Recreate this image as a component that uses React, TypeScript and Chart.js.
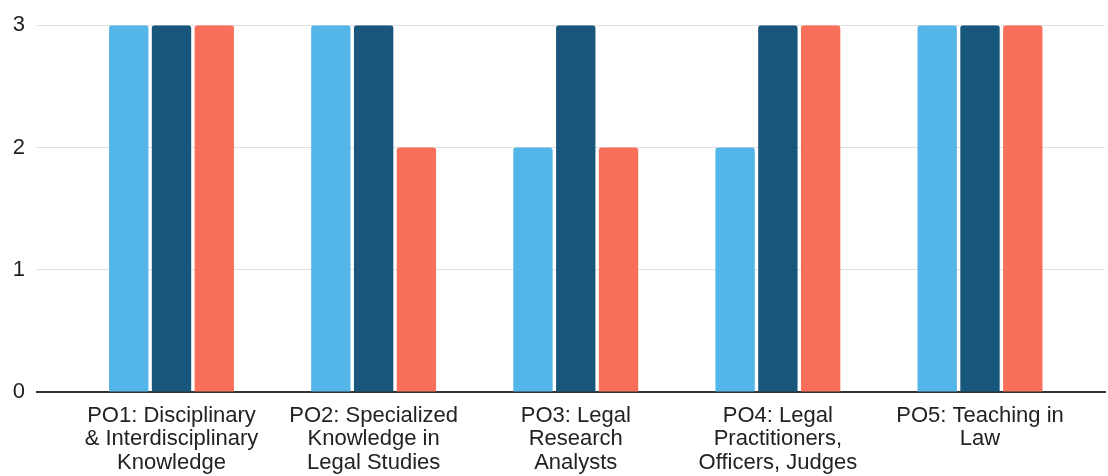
import React, { useEffect, useRef } from "react";
import { Chart, registerables } from "chart.js";

Chart.register(...registerables);

const categories: string[][] = [
  ["PO1: Disciplinary", "& Interdisciplinary", "Knowledge"],
  ["PO2: Specialized", "Knowledge in", "Legal Studies"],
  ["PO3: Legal", "Research", "Analysts"],
  ["PO4: Legal", "Practitioners,", "Officers, Judges"],
  ["PO5: Teaching in", "Law"],
];

const seriesA: number[] = [3, 3, 2, 2, 3];
const seriesB: number[] = [3, 3, 3, 3, 3];
const seriesC: number[] = [3, 2, 2, 3, 3];

const yTicks: number[] = [0, 1, 2, 3];

const FONT = "'Liberation Sans', Arial, Helvetica, sans-serif";

export default function App() {
  const ref = useRef<HTMLCanvasElement | null>(null);

  useEffect(() => {
    if (!ref.current) return;
    const toPts = (arr: number[]) => arr.map((v, i) => ({ x: i, y: v }));
    const common = {
      barPercentage: 0.92,
      categoryPercentage: 0.635,
      borderRadius: 3,
      borderSkipped: "start" as const,
    };
    const chart = new Chart(ref.current, {
      type: "bar",
      data: {
        datasets: [
          { label: "A", data: toPts(seriesA), backgroundColor: "#54b6e8", ...common },
          { label: "B", data: toPts(seriesB), backgroundColor: "#19567c", ...common },
          { label: "C", data: toPts(seriesC), backgroundColor: "#f8705a", ...common },
        ],
      },
      options: {
        animation: false,
        responsive: true,
        maintainAspectRatio: false,
        layout: { padding: { top: 20, right: 3, left: 0, bottom: 0 } },
        plugins: { legend: { display: false }, tooltip: { enabled: false } },
        scales: {
          x: {
            type: "linear",
            offset: false,
            min: -0.6655,
            max: 4.6185,
            afterBuildTicks: (scale: any) => {
              scale.ticks = categories.map((_, i) => ({ value: i }));
            },
            afterFit: (scale: any) => {
              scale.height = 84;
            },
            grid: { display: false, drawTicks: false },
            border: { display: true, color: "#333333", width: 2 },
            ticks: {
              autoSkip: false,
              maxRotation: 0,
              minRotation: 0,
              padding: 12,
              color: "#222222",
              font: { family: FONT, size: 22, lineHeight: 1.07 },
              callback: (value: any) => categories[Number(value)] ?? "",
            },
          },
          y: {
            min: 0,
            max: 3,
            afterBuildTicks: (scale: any) => {
              scale.ticks = yTicks.map((v) => ({ value: v }));
            },
            afterFit: (scale: any) => {
              scale.width = 37;
            },
            grid: { color: "#e0e0e0", lineWidth: 1, drawTicks: false },
            border: { display: false },
            ticks: {
              padding: 12,
              color: "#222222",
              font: { family: FONT, size: 22 },
            },
          },
        },
      },
    } as any);
    return () => chart.destroy();
  }, []);

  return (
    <div style={{ position: "absolute", left: 0, top: 0, width: 1108, height: 476, background: "#ffffff" }}>
      <canvas ref={ref} />
    </div>
  );
}
